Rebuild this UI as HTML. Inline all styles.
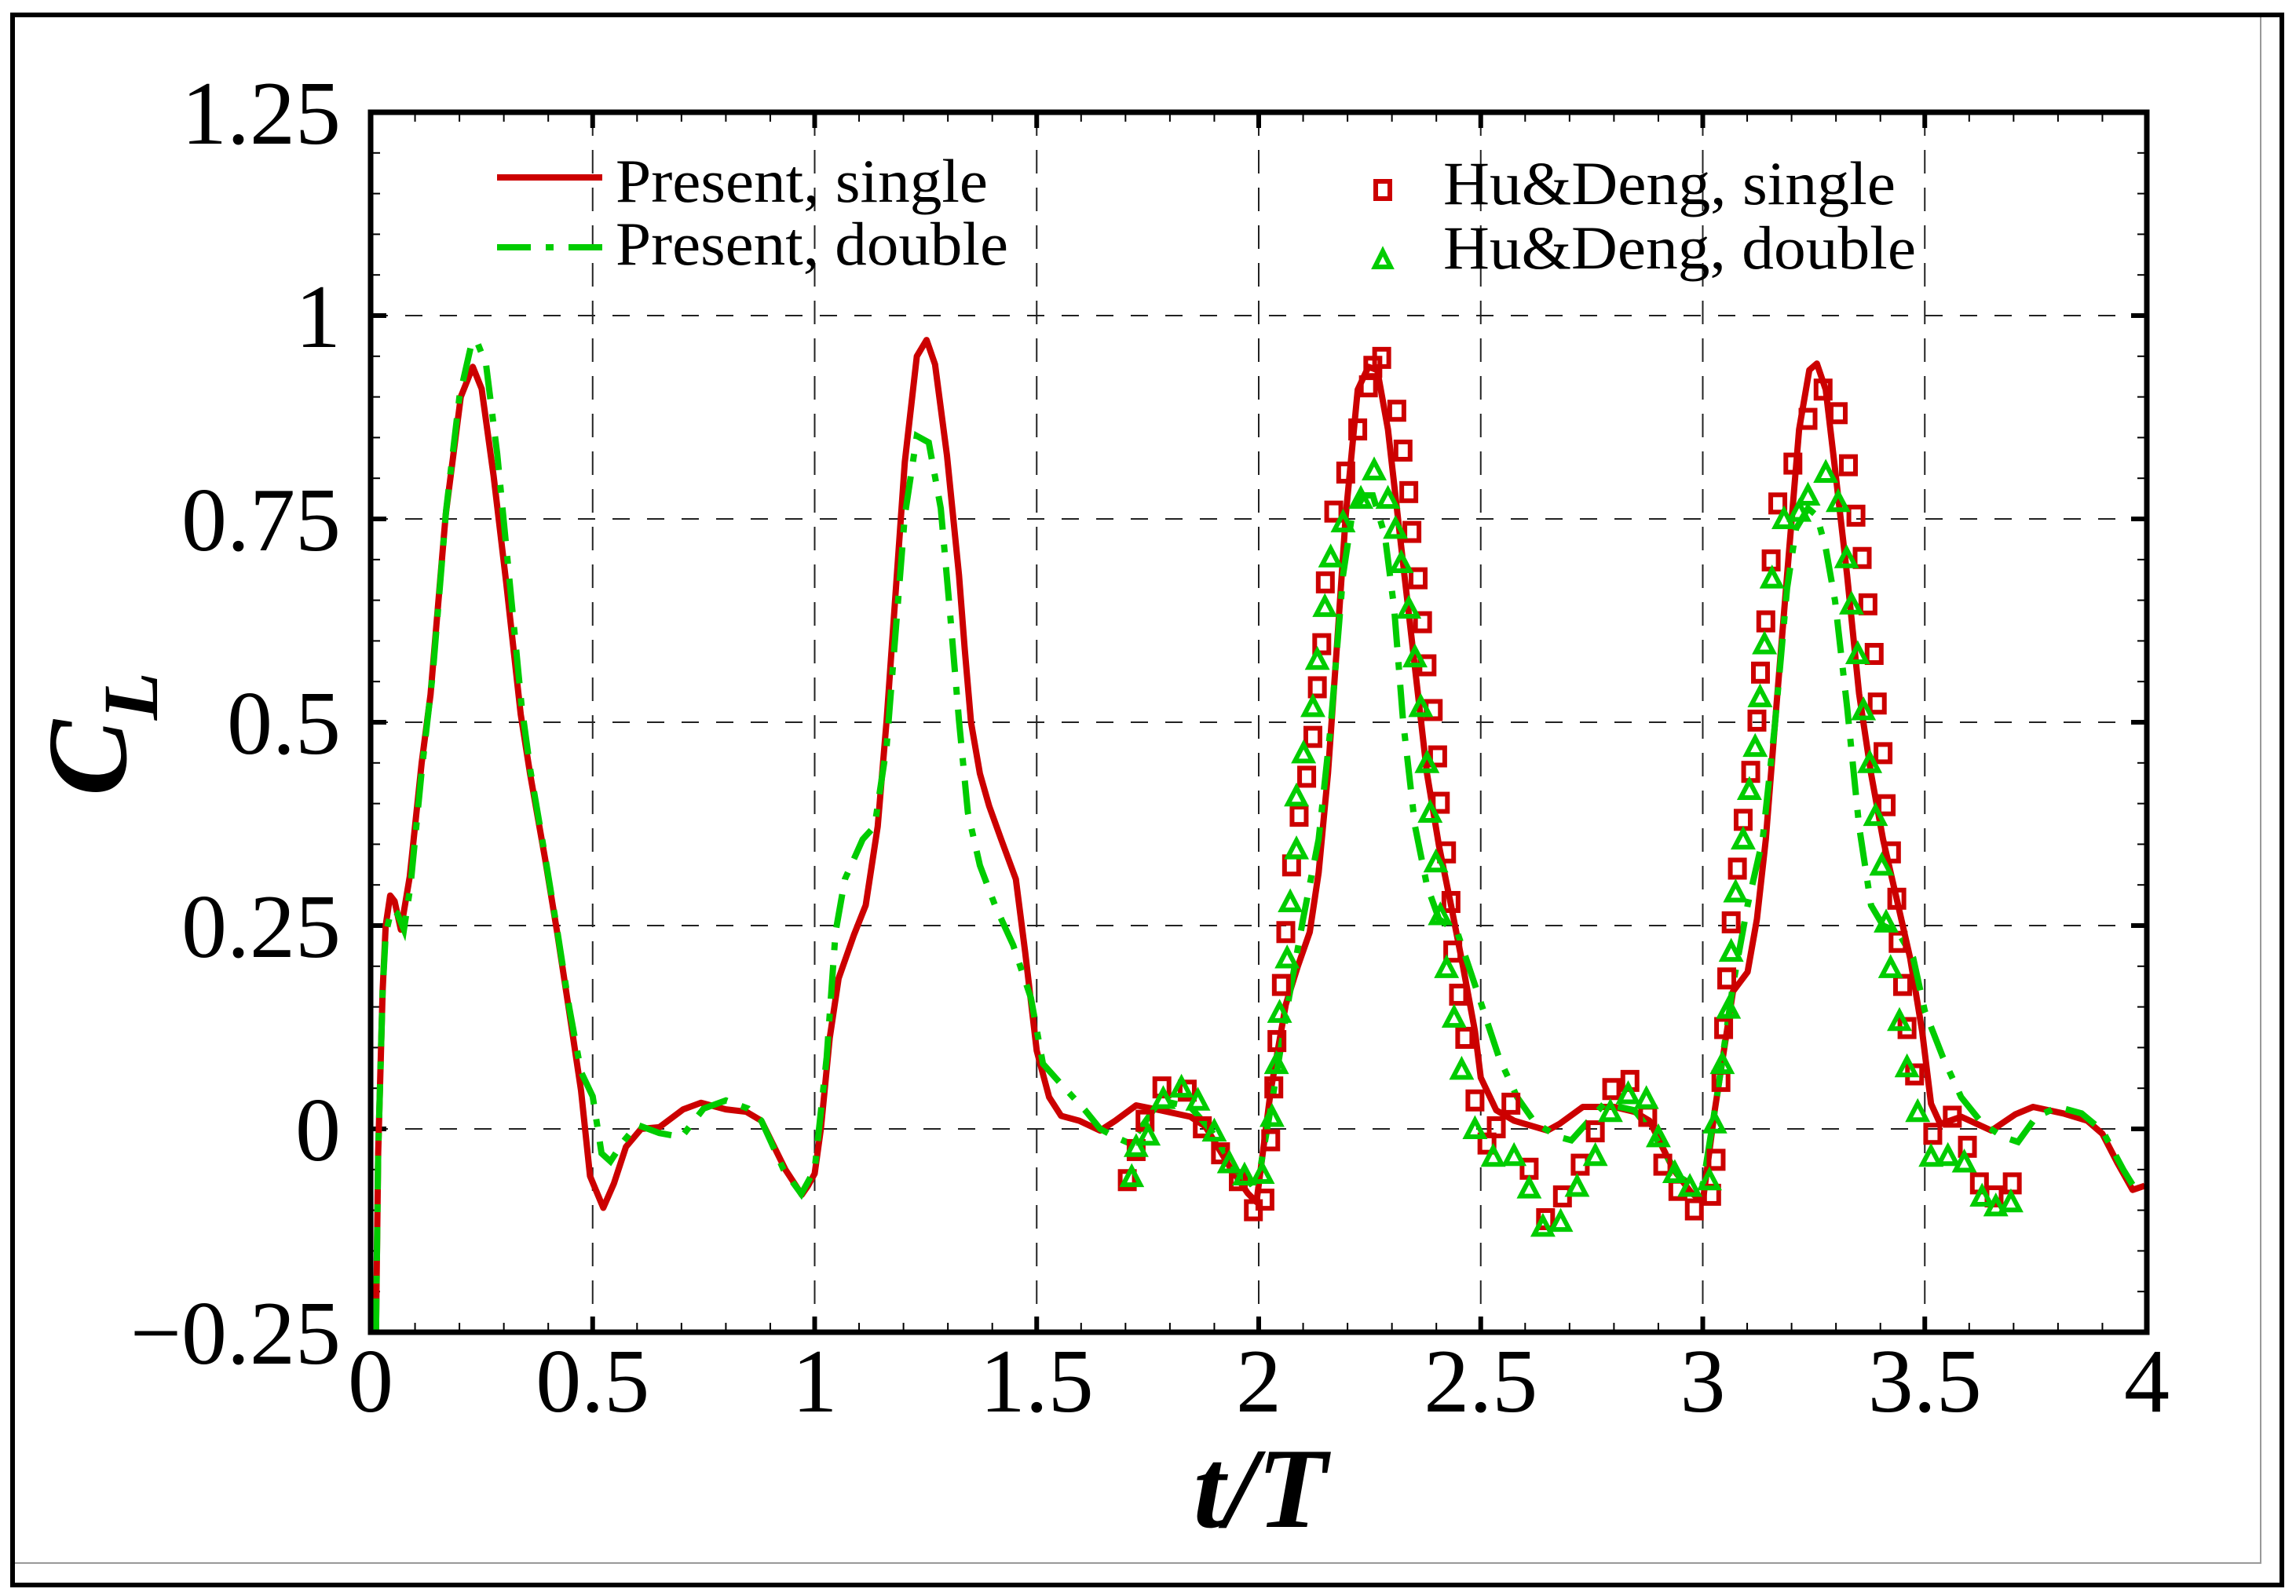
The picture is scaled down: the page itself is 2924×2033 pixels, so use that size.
<!DOCTYPE html>
<html><head><meta charset="utf-8"><style>
html,body{margin:0;padding:0;background:#fff;}
svg{display:block;}
text{font-family:"Liberation Serif",serif;}
</style></head>
<body>
<svg id="chart" width="2924" height="2033" viewBox="0 0 2924 2033" xmlns="http://www.w3.org/2000/svg">
<rect x="0" y="0" width="2924" height="2033" fill="#fff"/>
<rect x="18" y="21" width="2861" height="1970" fill="none" stroke="#999" stroke-width="2"/>
<rect x="16" y="19" width="2890" height="2000" fill="none" stroke="#000" stroke-width="6"/>
<g id="grid"></g>
<g id="ticks"></g>
<g id="series"></g>
<rect x="472" y="143" width="2262" height="1554" fill="none" stroke="#000" stroke-width="7"/>
<g id="labels"></g>
<text x="1605" y="1945" font-size="146" font-weight="bold" font-style="italic" text-anchor="middle">t/T</text>
<text transform="translate(160,935) rotate(-90)" font-size="145" font-weight="bold" font-style="italic" text-anchor="middle">C<tspan font-size="100" dy="40">L</tspan></text>
<g>
 <line x1="633" y1="226" x2="767" y2="226" stroke="#cc0000" stroke-width="8"/>
 <text x="784" y="257" font-size="78" textLength="474" lengthAdjust="spacingAndGlyphs">Present, single</text>
 <line x1="633" y1="315" x2="767" y2="315" stroke="#00cc00" stroke-width="8" stroke-dasharray="43 19 10 19"/>
 <text x="784" y="337" font-size="78" textLength="500" lengthAdjust="spacingAndGlyphs">Present, double</text>
 <rect x="1752" y="231" width="18" height="22" fill="none" stroke="#cc0000" stroke-width="6"/>
 <text x="1838" y="260" font-size="78" textLength="576" lengthAdjust="spacingAndGlyphs">Hu&amp;Deng, single</text>
 <polygon points="1761,320 1771,340 1751,340" fill="none" stroke="#00cc00" stroke-width="6"/>
 <text x="1838" y="342" font-size="78" textLength="602" lengthAdjust="spacingAndGlyphs">Hu&amp;Deng, double</text>
</g>
</svg>
<script>
const redT=[0.012,0.017,0.027,0.034,0.044,0.054,0.068,0.088,0.115,0.135,0.169,0.203,0.23,0.25,0.277,0.305,0.338,0.359,0.393,0.42,0.447,0.474,0.494,0.524,0.548,0.575,0.609,0.65,0.704,0.744,0.8,0.846,0.88,0.934,0.971,0.985,1.0,1.014,1.034,1.054,1.088,1.115,1.142,1.162,1.183,1.203,1.23,1.252,1.271,1.298,1.325,1.338,1.352,1.372,1.393,1.42,1.453,1.474,1.5,1.528,1.555,1.596,1.643,1.677,1.724,1.778,1.846,1.88,1.934,1.975,1.995,2.027,2.061,2.088,2.115,2.135,2.156,2.176,2.196,2.223,2.247,2.267,2.291,2.318,2.345,2.379,2.406,2.433,2.46,2.487,2.5,2.535,2.575,2.65,2.677,2.73,2.8,2.846,2.88,2.934,2.975,3.0,3.027,3.068,3.101,3.122,3.142,3.162,3.19,3.217,3.24,3.257,3.277,3.298,3.325,3.352,3.379,3.406,3.44,3.467,3.494,3.514,3.535,3.582,3.65,3.704,3.744,3.812,3.866,3.9,3.934,3.968,3.995];
const redV=[-0.25,-0.03,0.17,0.25,0.287,0.28,0.245,0.31,0.45,0.534,0.755,0.9,0.937,0.91,0.803,0.673,0.51,0.437,0.332,0.242,0.145,0.047,-0.058,-0.097,-0.067,-0.022,0,0.002,0.024,0.032,0.024,0.021,0.01,-0.05,-0.081,-0.07,-0.055,0.0,0.112,0.185,0.238,0.275,0.372,0.502,0.665,0.82,0.95,0.97,0.94,0.828,0.681,0.59,0.5,0.437,0.397,0.356,0.307,0.218,0.096,0.039,0.016,0.01,-0.002,0.01,0.029,0.023,0.015,0.003,-0.046,-0.079,-0.09,0.047,0.153,0.2,0.242,0.315,0.437,0.592,0.754,0.909,0.937,0.933,0.86,0.73,0.6,0.437,0.348,0.275,0.2,0.12,0.063,0.023,0.01,-0.002,0.006,0.027,0.027,0.021,0.01,-0.05,-0.079,-0.09,0.023,0.169,0.193,0.258,0.356,0.494,0.681,0.86,0.933,0.941,0.909,0.811,0.681,0.535,0.437,0.356,0.275,0.21,0.12,0.031,0.006,0.015,-0.002,0.018,0.027,0.019,0.01,-0.006,-0.042,-0.075,-0.07];
const greenT=[0.012,0.017,0.027,0.034,0.047,0.06,0.075,0.09,0.115,0.14,0.17,0.2,0.225,0.238,0.26,0.285,0.31,0.34,0.36,0.393,0.42,0.447,0.474,0.5,0.52,0.54,0.57,0.6,0.65,0.7,0.75,0.8,0.85,0.88,0.93,0.97,1.0,1.027,1.047,1.068,1.108,1.135,1.162,1.183,1.203,1.23,1.257,1.284,1.305,1.325,1.345,1.372,1.406,1.447,1.487,1.514,1.555,1.609,1.643,1.677,1.71,1.778,1.846,1.893,1.947,1.981,2.0,2.034,2.068,2.1,2.135,2.162,2.19,2.21,2.237,2.257,2.284,2.305,2.325,2.352,2.379,2.406,2.447,2.487,2.541,2.582,2.623,2.677,2.704,2.778,2.846,2.893,2.947,2.981,3.0,3.034,3.068,3.101,3.135,3.162,3.19,3.21,3.237,3.257,3.277,3.298,3.325,3.352,3.379,3.406,3.44,3.474,3.5,3.541,3.582,3.629,3.677,3.71,3.751,3.8,3.853,3.9,3.947,3.975,3.995];
const greenV=[-0.25,-0.03,0.17,0.24,0.27,0.265,0.245,0.3,0.44,0.56,0.76,0.9,0.96,0.97,0.94,0.83,0.69,0.52,0.44,0.335,0.245,0.15,0.07,0.04,-0.03,-0.04,-0.015,0.005,-0.005,-0.01,0.025,0.035,0.025,0.01,-0.05,-0.08,-0.05,0.088,0.242,0.307,0.356,0.372,0.47,0.616,0.754,0.852,0.844,0.763,0.633,0.502,0.389,0.324,0.275,0.226,0.161,0.08,0.055,0.023,0.0,-0.01,-0.018,0.035,0.027,-0.002,-0.05,-0.067,-0.06,0.047,0.161,0.258,0.356,0.494,0.681,0.754,0.779,0.779,0.73,0.64,0.502,0.372,0.299,0.258,0.242,0.177,0.088,0.039,0.007,-0.01,-0.014,0.031,0.023,-0.01,-0.059,-0.07,-0.07,0.047,0.177,0.275,0.356,0.494,0.665,0.738,0.763,0.754,0.714,0.649,0.519,0.372,0.275,0.25,0.242,0.21,0.145,0.088,0.039,0.007,-0.01,-0.016,0.015,0.027,0.019,-0.002,-0.05,-0.075,-0.075];
const sqT=[1.704,1.724,1.744,1.782,1.839,1.873,1.914,1.954,1.988,2.014,2.027,2.034,2.041,2.051,2.061,2.074,2.091,2.108,2.122,2.132,2.142,2.15,2.169,2.196,2.223,2.247,2.257,2.277,2.311,2.325,2.338,2.345,2.359,2.369,2.379,2.393,2.403,2.409,2.423,2.433,2.437,2.45,2.464,2.487,2.514,2.535,2.568,2.609,2.646,2.684,2.724,2.758,2.795,2.836,2.876,2.91,2.944,2.981,3.02,3.03,3.041,3.047,3.054,3.064,3.078,3.091,3.108,3.122,3.13,3.142,3.154,3.169,3.203,3.237,3.271,3.305,3.328,3.345,3.359,3.372,3.386,3.393,3.406,3.413,3.425,3.437,3.44,3.45,3.46,3.477,3.518,3.562,3.596,3.623,3.656,3.697];
const sqV=[-0.063,-0.026,0.01,0.051,0.047,0.002,-0.03,-0.063,-0.1,-0.087,-0.014,0.051,0.108,0.177,0.242,0.324,0.385,0.433,0.482,0.543,0.596,0.672,0.759,0.807,0.86,0.913,0.937,0.948,0.883,0.834,0.783,0.734,0.677,0.623,0.57,0.515,0.458,0.401,0.34,0.279,0.218,0.165,0.112,0.035,-0.018,0.002,0.031,-0.049,-0.111,-0.083,-0.044,-0.003,0.049,0.059,0.016,-0.044,-0.075,-0.099,-0.081,-0.038,0.059,0.124,0.185,0.254,0.32,0.38,0.439,0.502,0.561,0.624,0.699,0.769,0.818,0.873,0.909,0.88,0.816,0.754,0.702,0.645,0.584,0.523,0.462,0.398,0.34,0.283,0.23,0.177,0.124,0.067,-0.006,0.015,-0.022,-0.067,-0.083,-0.067];
const triT=[1.714,1.724,1.751,1.785,1.826,1.863,1.9,1.934,1.968,2.008,2.03,2.04,2.047,2.064,2.071,2.085,2.085,2.101,2.122,2.132,2.149,2.162,2.19,2.23,2.26,2.291,2.308,2.321,2.338,2.352,2.365,2.379,2.386,2.399,2.409,2.423,2.44,2.457,2.487,2.528,2.575,2.609,2.64,2.68,2.717,2.758,2.792,2.832,2.873,2.9,2.937,2.971,3.015,3.027,3.044,3.058,3.064,3.074,3.091,3.105,3.118,3.129,3.139,3.156,3.183,3.217,3.237,3.277,3.305,3.324,3.335,3.349,3.362,3.376,3.389,3.403,3.413,3.423,3.443,3.46,3.484,3.514,3.552,3.589,3.629,3.66,3.694];
const triV=[-0.059,-0.022,-0.008,0.037,0.051,0.035,-0.003,-0.042,-0.057,-0.055,0.015,0.08,0.143,0.21,0.279,0.344,0.409,0.462,0.519,0.577,0.642,0.703,0.746,0.775,0.81,0.775,0.738,0.696,0.64,0.58,0.519,0.45,0.389,0.328,0.263,0.198,0.137,0.073,0.0,-0.034,-0.033,-0.073,-0.12,-0.114,-0.071,-0.033,0.021,0.043,0.037,-0.01,-0.054,-0.071,-0.063,0.007,0.08,0.148,0.218,0.291,0.356,0.417,0.47,0.531,0.596,0.677,0.75,0.759,0.779,0.807,0.771,0.702,0.645,0.584,0.515,0.45,0.385,0.324,0.254,0.198,0.133,0.076,0.021,-0.034,-0.033,-0.041,-0.083,-0.095,-0.09];
const xTicks=[0,0.5,1,1.5,2,2.5,3,3.5,4];
const xTickLabels=["0","0.5","1","1.5","2","2.5","3","3.5","4"];
const yTicks=[-0.25,0,0.25,0.5,0.75,1,1.25];
const yTickLabels=["\u22120.25","0","0.25","0.5","0.75","1","1.25"];

const NS="http://www.w3.org/2000/svg";
const L=472,R=2734,T=143,B=1697;
const sx=t=>L+(t-0)/4*(R-L);
const sy=v=>B-(v+0.25)/1.5*(B-T);
function mk(tag,attrs,parent){const e=document.createElementNS(NS,tag);for(const k in attrs)e.setAttribute(k,attrs[k]);parent.appendChild(e);return e;}
const grid=document.getElementById('grid'),ticks=document.getElementById('ticks'),series=document.getElementById('series'),labels=document.getElementById('labels');

xTicks.forEach((t,i)=>{
  if(t>0&&t<4){const g=mk('line',{x1:sx(t),y1:T,x2:sx(t),y2:B,stroke:'#222','stroke-width':2,'stroke-dasharray':'30 18'},grid);
  
  }
  const tx=mk('text',{x:sx(t),y:1798,'font-size':116,'text-anchor':'middle'},labels);
  
  
  tx.textContent=xTickLabels[i];
});
yTicks.forEach((v,i)=>{
  if(v>-0.25&&v<1.25){const g=mk('line',{x1:L,y1:sy(v),x2:R,y2:sy(v),stroke:'#222','stroke-width':2,'stroke-dasharray':'22 22'},grid);
  
  }
  const tx=mk('text',{x:434,y:sy(v)+40,'font-size':116,'text-anchor':'end'},labels);
  
  
  tx.textContent=yTickLabels[i];
});
for(let k=0;k<=40;k++){const t=k*0.1,maj=(k%5===0),len=maj?20:12,w=maj?6:2;
  [[B,-1],[T,1]].forEach(([y0,d])=>{const e=mk('line',{x1:sx(t),y1:y0,x2:sx(t),y2:y0+d*len,stroke:'#000','stroke-width':w},ticks);
  
  });}
for(let k=0;k<=30;k++){const v=-0.25+k*0.05,maj=(k%5===0),len=maj?20:12,w=maj?6:2;
  [[L,1],[R,-1]].forEach(([x0,d])=>{const e=mk('line',{x1:x0,y1:sy(v),x2:x0+d*len,y2:sy(v),stroke:'#000','stroke-width':w},ticks);
  
  });}

const defs=mk('defs',{},document.getElementById('chart'));
const cp=mk('clipPath',{id:'clip'},defs);
mk('rect',{x:L,y:T,width:R-L,height:B-T},cp);

function path(ts,vs){return ts.map((t,i)=>(i?'L':'M')+sx(t).toFixed(1)+','+sy(vs[i]).toFixed(1)).join(' ');}
const rl=mk('path',{d:path(redT,redV),fill:'none',stroke:'#cc0000','stroke-width':8,'stroke-linejoin':'round','clip-path':'url(#clip)'},series);


const gl=mk('path',{d:path(greenT,greenV),fill:'none',stroke:'#00cc00','stroke-width':8,'stroke-dasharray':'43 19 10 19','clip-path':'url(#clip)'},series);



sqT.forEach((t,i)=>{const e=mk('rect',{x:sx(t)-9,y:sy(sqV[i])-11,width:18,height:22,fill:'none',stroke:'#cc0000','stroke-width':6},series);
  
  });
triT.forEach((t,i)=>{const x=sx(t),y=sy(triV[i]);
  const e=mk('polygon',{points:`${x},${y-11} ${x+11},${y+10} ${x-11},${y+10}`,fill:'none',stroke:'#00cc00','stroke-width':6},series);
  
  });
</script>
</body></html>
